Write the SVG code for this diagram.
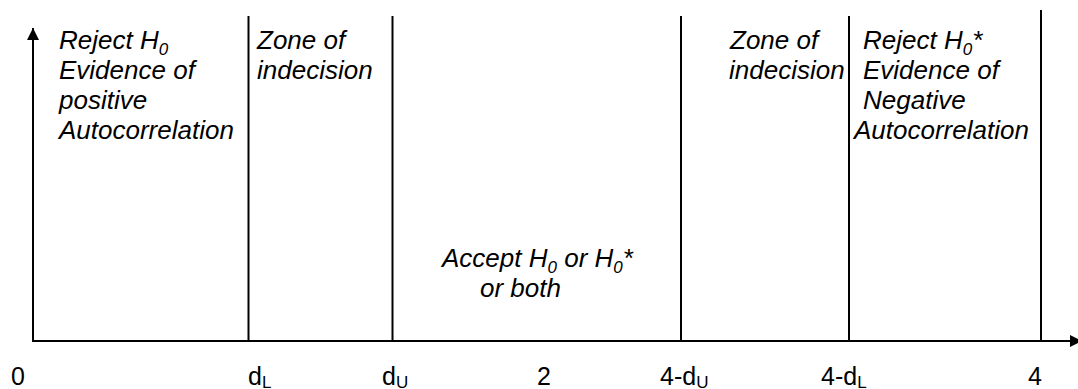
<svg xmlns="http://www.w3.org/2000/svg" width="1078" height="389" viewBox="0 0 1078 389">
  <style>
    .ax { stroke: #000; stroke-width: 2; fill: none; }
    .lbl { font-family: "Liberation Sans", Arial, sans-serif; font-style: italic; font-size: 26px; fill: #000; }
    .tick { font-family: "Liberation Sans", Arial, sans-serif; font-size: 25px; fill: #000; }
    .sub { font-size: 17px; }
  </style>
  <defs>
    <marker id="arrow" viewBox="0 0 12 12" refX="12" refY="6" markerWidth="12" markerHeight="12" orient="auto" markerUnits="userSpaceOnUse">
      <path d="M0,0 L12,6 L0,12 Z" fill="#000"/>
    </marker>
  </defs>

  <!-- axes and region boundaries -->
  <g id="connectors">
    <line class="ax" x1="33" y1="342" x2="33" y2="28" marker-end="url(#arrow)"/>
    <line class="ax" x1="32" y1="341" x2="1082" y2="341" marker-end="url(#arrow)"/>
    <line class="ax" x1="248.5" y1="16" x2="248.5" y2="341"/>
    <line class="ax" x1="392.5" y1="16" x2="392.5" y2="341"/>
    <line class="ax" x1="681" y1="16" x2="681" y2="341"/>
    <line class="ax" x1="849" y1="16" x2="849" y2="341"/>
    <line class="ax" x1="1041" y1="10" x2="1041" y2="341"/>
  </g>

  <g id="reject-h0">
    <text class="lbl" x="59" y="49">Reject H<tspan class="sub" dy="6">0</tspan></text>
    <text class="lbl" x="59" y="79">Evidence of</text>
    <text class="lbl" x="59" y="109">positive</text>
    <text class="lbl" x="59" y="139">Autocorrelation</text>
  </g>

  <g id="zone-lower">
    <text class="lbl" x="257" y="49">Zone of</text>
    <text class="lbl" x="257" y="79">indecision</text>
  </g>

  <g id="accept">
    <text class="lbl" x="442" y="267">Accept H<tspan class="sub" dy="6">0</tspan><tspan dy="-6"> or H</tspan><tspan class="sub" dy="6">0</tspan><tspan dy="-6">*</tspan></text>
    <text class="lbl" x="480" y="297">or both</text>
  </g>

  <g id="zone-upper">
    <text class="lbl" x="730" y="49">Zone of</text>
    <text class="lbl" x="729" y="79">indecision</text>
  </g>

  <g id="reject-h0-star">
    <text class="lbl" x="863" y="49">Reject H<tspan class="sub" dy="6">0</tspan><tspan dy="-6">*</tspan></text>
    <text class="lbl" x="863" y="79">Evidence of</text>
    <text class="lbl" x="863" y="109">Negative</text>
    <text class="lbl" x="854" y="139">Autocorrelation</text>
  </g>

  <g id="ticks">
    <text class="tick" x="11" y="385">0</text>
    <text class="tick" x="248" y="385">d<tspan class="sub" dy="3">L</tspan></text>
    <text class="tick" x="382" y="385">d<tspan class="sub" dy="3">U</tspan></text>
    <text class="tick" x="537" y="385">2</text>
    <text class="tick" x="660" y="385">4-d<tspan class="sub" dy="3">U</tspan></text>
    <text class="tick" x="821" y="385">4-d<tspan class="sub" dy="3">L</tspan></text>
    <text class="tick" x="1028" y="385">4</text>
  </g>
</svg>
